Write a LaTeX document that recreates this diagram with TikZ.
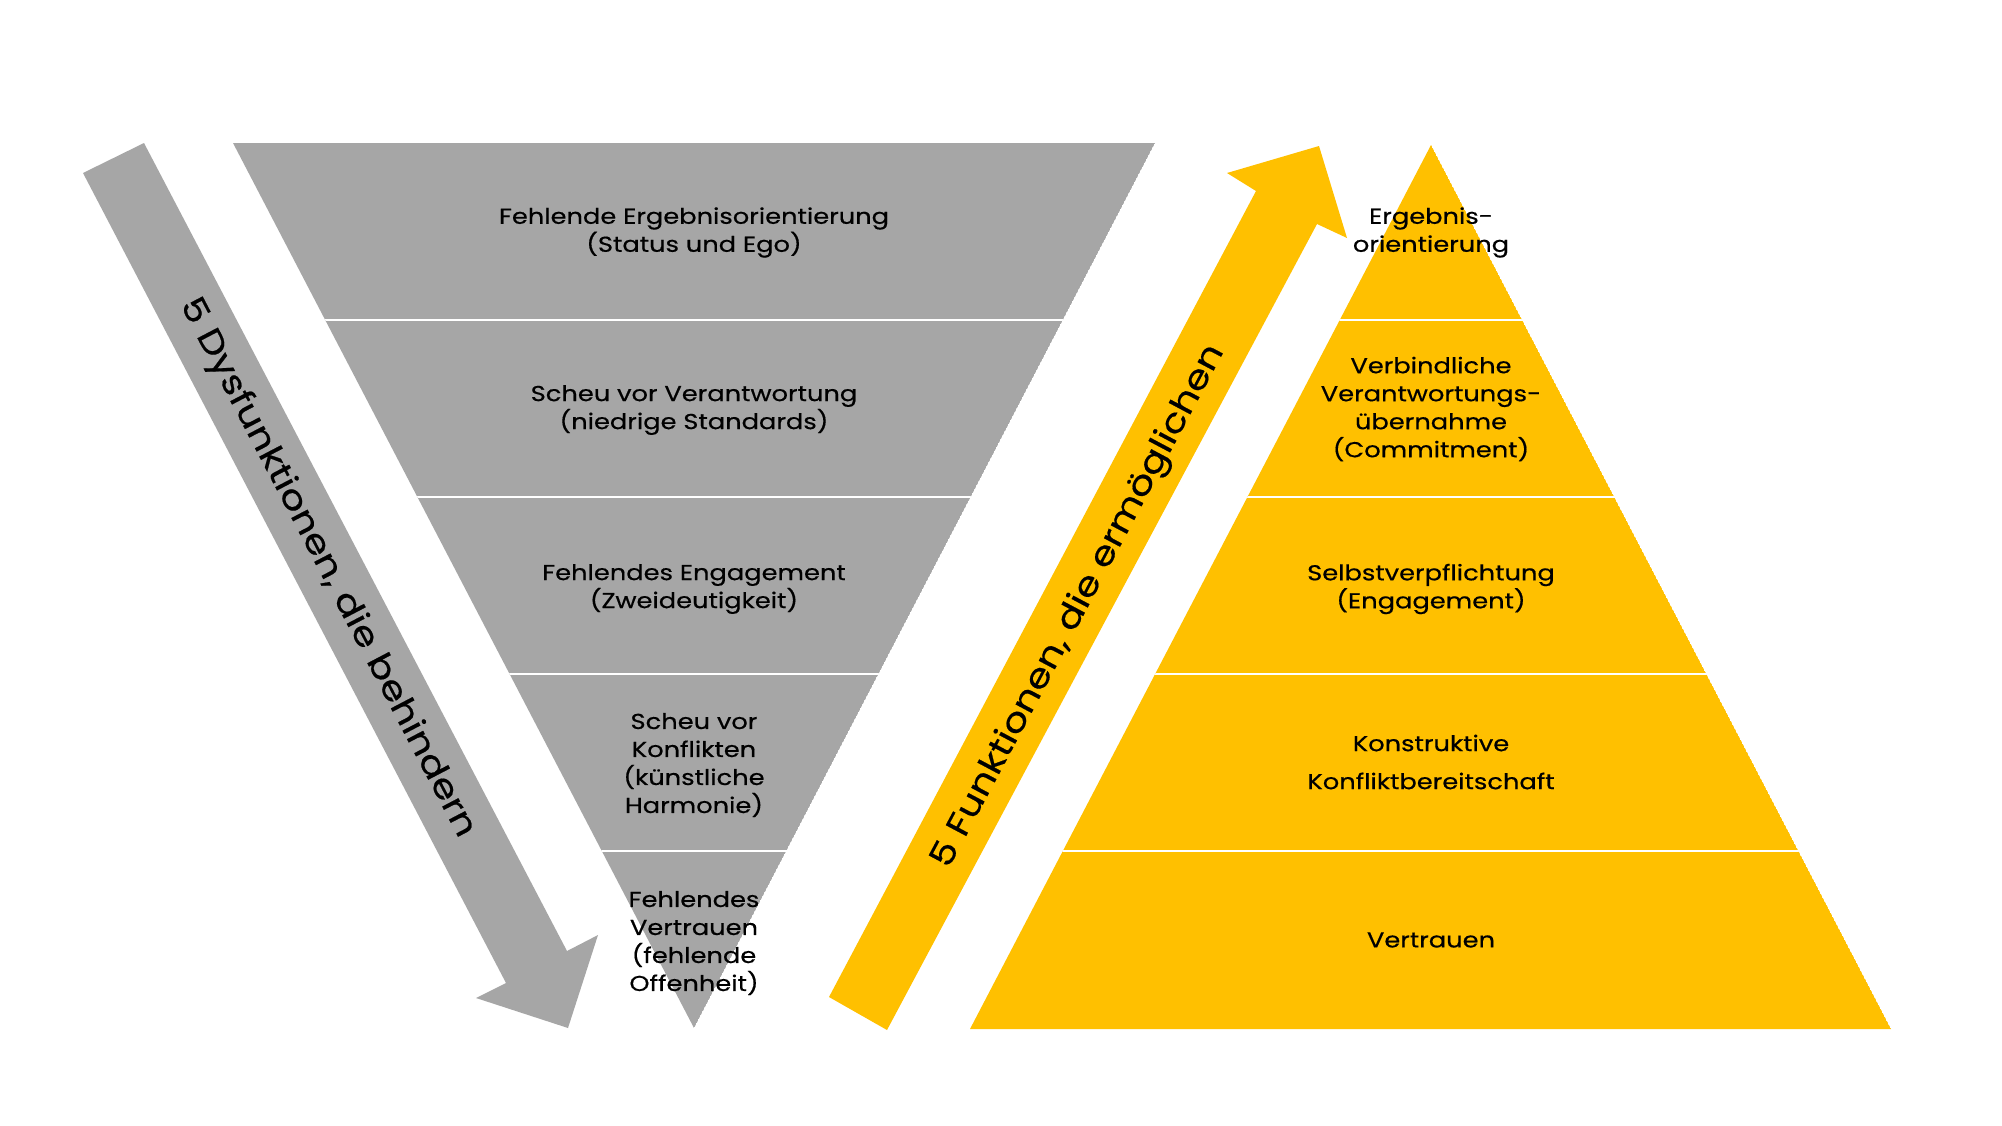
\documentclass[tikz,border=0pt]{standalone}
\usepackage{fontspec}
\setmainfont{Poppins}[FakeStretch=1.19, FakeBold=0.5]
\definecolor{grayfill}{HTML}{A6A6A6}
\definecolor{yellowfill}{HTML}{FFC000}
\tikzset{
  bandtext/.style={align=center, inner sep=0pt, text=black, font=\fontsize{10.8}{14}\selectfont},
  arrowtext/.style={inner sep=0pt, text=black, font=\fontsize{16.5}{20}\selectfont},
  sepline/.style={draw=white, line width=1pt},
}
\begin{document}
\begin{tikzpicture}[x=0.5pt,y=-0.5pt]
\useasboundingbox (0,0) rectangle (2002,1125);
\fill[white] (0,0) rectangle (2002,1125);
% gray arrow
\fill[grayfill] (83,173) -- (144,143) -- (567,951) -- (598,935) -- (568,1028) -- (476,998) -- (506,983) -- cycle;
% inverted triangle
\begin{scope}
\path[clip] (233,143) -- (1155,143) -- (694,1028) -- cycle;
\fill[grayfill] (233,143) -- (1155,143) -- (694,1028) -- cycle;
\foreach \yy in {320,497,674,851} \draw[sepline] (200,\yy) -- (1200,\yy);
\end{scope}
% yellow arrow
\fill[yellowfill] (829,997) -- (887,1030) -- (1317,224) -- (1347,238) -- (1319,146) -- (1227,173) -- (1256,191) -- cycle;
% pyramid
\begin{scope}
\path[clip] (1431,145) -- (1891,1029) -- (970,1029) -- cycle;
\fill[yellowfill] (1431,145) -- (1891,1029) -- (970,1029) -- cycle;
\foreach \yy in {320,497,674,851} \draw[sepline] (900,\yy) -- (1950,\yy);
\end{scope}
% gray texts
\node[bandtext] (g1) at (694,232.5) {Fehlende Ergebnisorientierung\\(Status und Ego)};
\node[bandtext] (g2) at (694,410) {Scheu vor Verantwortung\\(niedrige Standards)};
\node[bandtext] (g3) at (694,589) {Fehlendes Engagement\\(Zweideutigkeit)};
\node[bandtext] (g4) at (694,765) {Scheu vor\\Konflikten\\(künstliche\\Harmonie)};
\node[bandtext] (g5) at (694,943) {Fehlendes\\Vertrauen\\(fehlende\\Offenheit)};
% yellow texts
\node[bandtext] (y1) at (1431,232.5) {Ergebnis-\\orientierung};
\node[bandtext] (y2) at (1431,409) {Verbindliche\\Verantwortungs-\\übernahme\\(Commitment)};
\node[bandtext] (y3) at (1431,589) {Selbstverpflichtung\\(Engagement)};
\node[bandtext, font=\fontsize{10.8}{19}\selectfont] (y4) at (1431,762) {Konstruktive\\Konfliktbereitschaft};
\node[bandtext] (y5) at (1431,940) {Vertrauen};
% arrow labels
\node[arrowtext, rotate=-62.4] (la) at (327,568) {5 Dysfunktionen, die behindern};
\node[arrowtext, rotate=62] (lb) at (1079,606.5) {5 Funktionen, die ermöglichen};
\end{tikzpicture}
\end{document}
